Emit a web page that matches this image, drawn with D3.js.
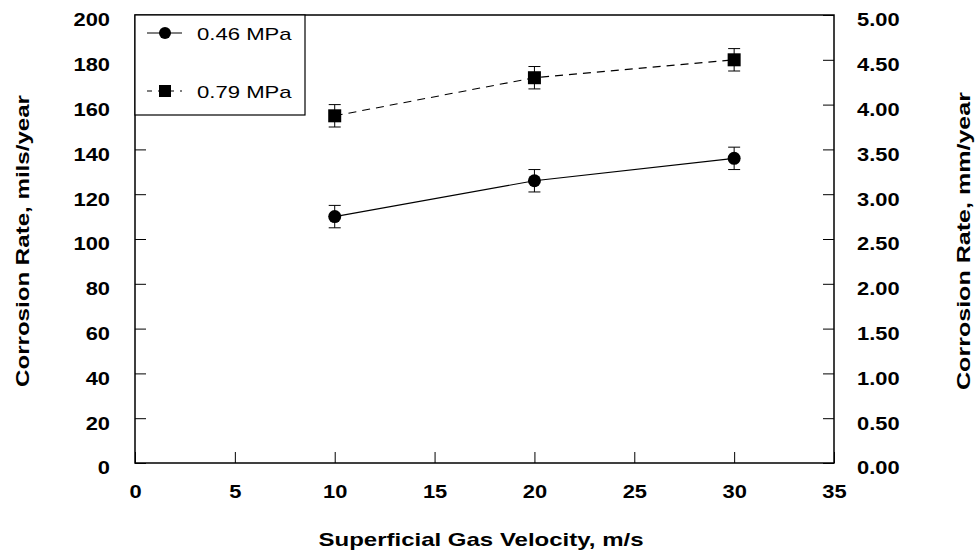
<!DOCTYPE html>
<html><head><meta charset="utf-8">
<script src="https://cdn.jsdelivr.net/npm/d3@7"></script>
<style>body{margin:0;background:#fff;}svg{display:block;font-family:"Liberation Sans",Arial,sans-serif;}</style>
</head><body>
<svg id="c" width="978" height="557"></svg>
<script>
const velocities = [10, 20, 30];
const rate046 = [110, 126, 136];
const rate079 = [155, 172, 180];
const errAmount = [5, 5, 5];
const seriesNames = ["0.46 MPa", "0.79 MPa"];
const xTicks = [0, 5, 10, 15, 20, 25, 30, 35];
const yTicks = [0, 20, 40, 60, 80, 100, 120, 140, 160, 180, 200];
const y2Ticks = [0, 0.5, 1, 1.5, 2, 2.5, 3, 3.5, 4, 4.5, 5];

const svg = d3.select("#c");
const L = 135, R = 834, T = 15, B = 463;
const x = d3.scaleLinear().domain([0, 35]).range([L, R]);
const y = d3.scaleLinear().domain([0, 200]).range([B, T]);
const y2 = d3.scaleLinear().domain([0, 5]).range([B, T]);

function stretch(sel, k) {
  sel.each(function () {
    const len = this.getComputedTextLength();
    d3.select(this).attr("textLength", len * k).attr("lengthAdjust", "spacingAndGlyphs");
  });
}

// frame
svg.append("rect").attr("x", L).attr("y", T).attr("width", R - L).attr("height", B - T)
  .attr("fill", "none").attr("stroke", "#000").attr("stroke-width", 1.5);

const tickLen = 11;
const axL = svg.append("g").attr("transform", `translate(${L},0)`)
  .call(d3.axisLeft(y).tickValues(yTicks).tickSizeInner(-tickLen).tickSizeOuter(0).tickPadding(25));
const axR = svg.append("g").attr("transform", `translate(${R},0)`)
  .call(d3.axisRight(y2).tickValues(y2Ticks).tickSizeInner(-tickLen).tickSizeOuter(0).tickPadding(23).tickFormat(d3.format(".2f")));
const axB = svg.append("g").attr("transform", `translate(0,${B})`)
  .call(d3.axisBottom(x).tickValues(xTicks).tickSizeInner(-tickLen).tickSizeOuter(0).tickPadding(23));
[axL, axR, axB].forEach(a => {
  a.select(".domain").remove();
  a.selectAll("line").attr("stroke", "#000").attr("stroke-width", 1);
  a.selectAll("text").attr("font-size", 17.5).attr("font-weight", "bold").attr("fill", "#000")
    .attr("font-family", "'Liberation Sans', Arial, sans-serif");
});
axL.selectAll("text").attr("dy", "0.62em");
axR.selectAll("text").attr("dy", "0.62em");
axB.selectAll("text").attr("dy", "0.71em");
[axL, axR, axB].forEach(a => stretch(a.selectAll("text"), 1.25));

// titles
const tx = svg.append("text").attr("x", 481).attr("y", 546).attr("text-anchor", "middle")
  .attr("font-size", 19).attr("font-weight", "bold").text("Superficial Gas Velocity, m/s");
const tl = svg.append("text").attr("transform", `translate(29,241) rotate(-90)`).attr("text-anchor", "middle")
  .attr("font-size", 19).attr("font-weight", "bold").text("Corrosion Rate, mils/year");
const tr = svg.append("text").attr("transform", `translate(970,241) rotate(-90)`).attr("text-anchor", "middle")
  .attr("font-size", 19).attr("font-weight", "bold").text("Corrosion Rate, mm/year");
tx.attr("textLength", 325).attr("lengthAdjust", "spacingAndGlyphs");
tl.attr("textLength", 292).attr("lengthAdjust", "spacingAndGlyphs");
tr.attr("textLength", 298).attr("lengthAdjust", "spacingAndGlyphs");

const line = d3.line().x(d => x(d[0])).y(d => y(d[1]));
const d1 = velocities.map((v, i) => [v, rate046[i], errAmount[i]]);
const d2 = velocities.map((v, i) => [v, rate079[i], errAmount[i]]);

svg.append("path").datum(d1).attr("d", line).attr("fill", "none").attr("stroke", "#000").attr("stroke-width", 1.1);
svg.append("path").datum(d2).attr("d", line).attr("fill", "none").attr("stroke", "#000").attr("stroke-width", 1.1)
  .attr("stroke-dasharray", "8,6");

function errbars(data) {
  const g = svg.append("g");
  data.forEach(d => {
    const cx = x(d[0]);
    g.append("line").attr("x1", cx).attr("x2", cx).attr("y1", y(d[1] + d[2])).attr("y2", y(d[1] - d[2])).attr("stroke", "#000");
    [d[1] + d[2], d[1] - d[2]].forEach(v => g.append("line").attr("x1", cx - 6).attr("x2", cx + 6)
      .attr("y1", y(v)).attr("y2", y(v)).attr("stroke", "#000").attr("stroke-width", 1));
  });
}
errbars(d1); errbars(d2);

svg.append("g").selectAll("circle").data(d1).join("circle")
  .attr("cx", d => x(d[0])).attr("cy", d => y(d[1])).attr("r", 6.5).attr("fill", "#000");
svg.append("g").selectAll("rect").data(d2).join("rect")
  .attr("x", d => x(d[0]) - 6.5).attr("y", d => y(d[1]) - 6.5).attr("width", 13).attr("height", 13).attr("fill", "#000");

// legend
const lg = svg.append("g");
lg.append("rect").attr("x", L).attr("y", T).attr("width", 170).attr("height", 100)
  .attr("fill", "#fff").attr("stroke", "#000").attr("stroke-width", 1.2);
lg.append("line").attr("x1", 147).attr("x2", 182).attr("y1", 33).attr("y2", 33).attr("stroke", "#000").attr("stroke-width", 1.1);
lg.append("circle").attr("cx", 165).attr("cy", 33).attr("r", 6).attr("fill", "#000");
lg.append("line").attr("x1", 147).attr("x2", 182).attr("y1", 91).attr("y2", 91).attr("stroke", "#000").attr("stroke-width", 1.1)
  .attr("stroke-dasharray", "5,6");
lg.append("rect").attr("x", 159).attr("y", 85).attr("width", 12).attr("height", 12).attr("fill", "#000");
const lt = lg.selectAll("text.lt").data(seriesNames).join("text").attr("class", "lt")
  .attr("x", 197).attr("y", (d, i) => i === 0 ? 40 : 98).attr("font-size", 17).text(d => d);
stretch(lt, 1.3);
</script>
</body></html>
